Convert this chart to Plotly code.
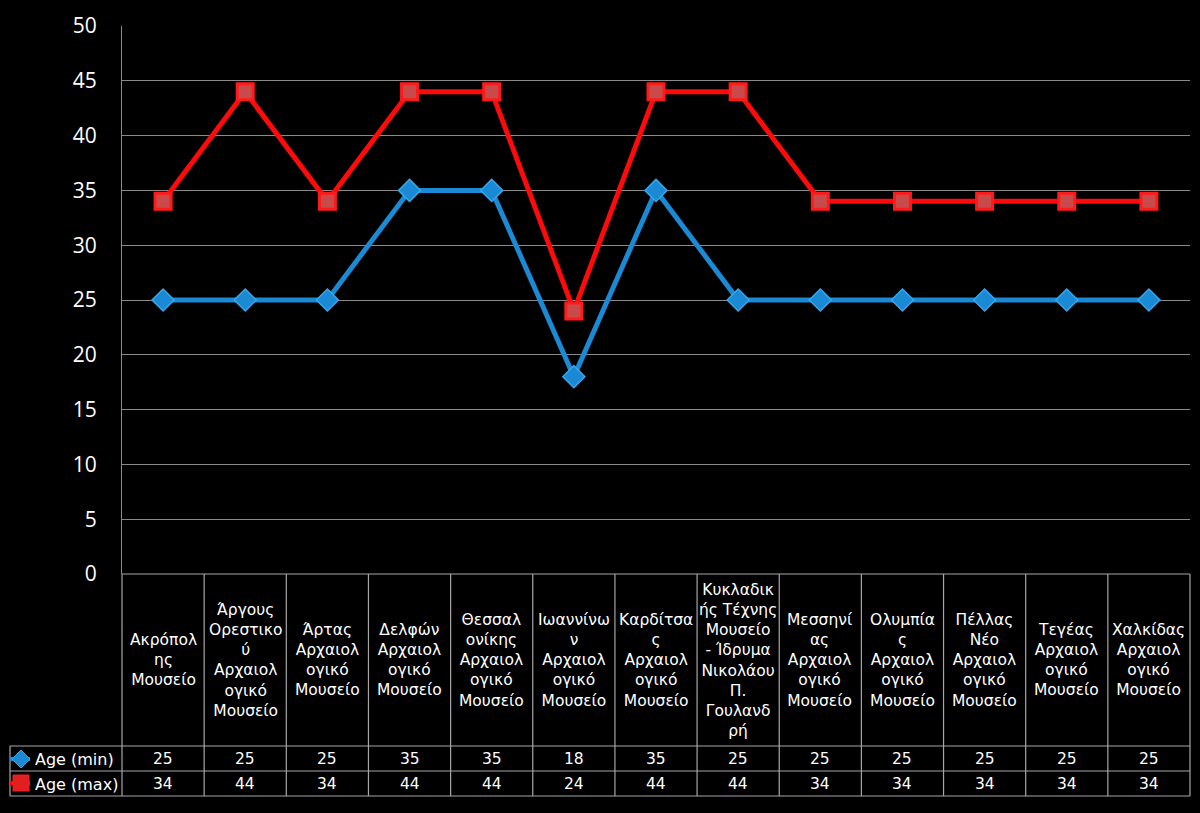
import plotly.graph_objects as go

W, H = 1200, 813

categories = [
    "Ακρόπολ\nης\nΜουσείο",
    "Άργους\nΟρεστικο\nύ\nΑρχαιολ\nογικό\nΜουσείο",
    "Άρτας\nΑρχαιολ\nογικό\nΜουσείο",
    "Δελφών\nΑρχαιολ\nογικό\nΜουσείο",
    "Θεσσαλ\nονίκης\nΑρχαιολ\nογικό\nΜουσείο",
    "Ιωαννίνω\nν\nΑρχαιολ\nογικό\nΜουσείο",
    "Καρδίτσα\nς\nΑρχαιολ\nογικό\nΜουσείο",
    "Κυκλαδικ\nής Τέχνης\nΜουσείο\n- Ίδρυμα\nΝικολάου\nΠ.\nΓουλανδ\nρή",
    "Μεσσηνί\nας\nΑρχαιολ\nογικό\nΜουσείο",
    "Ολυμπία\nς\nΑρχαιολ\nογικό\nΜουσείο",
    "Πέλλας\nΝέο\nΑρχαιολ\nογικό\nΜουσείο",
    "Τεγέας\nΑρχαιολ\nογικό\nΜουσείο",
    "Χαλκίδας\nΑρχαιολ\nογικό\nΜουσείο",
]
age_min = [25, 25, 25, 35, 35, 18, 35, 25, 25, 25, 25, 25, 25]
age_max = [34, 44, 34, 44, 44, 24, 44, 44, 34, 34, 34, 34, 34]
series_names = ["Age (min)", "Age (max)"]
y_ticks = [0, 5, 10, 15, 20, 25, 30, 35, 40, 45, 50]

BLUE = "#1a8ad4"
RED = "#ff0a0a"
GRID = "#8a8a8a"
TABLE = "#a6a6a6"
FONT = "DejaVu Sans"

# pixel layout helpers
X0, X1 = 122, 1190
YTOP, YBOT = 26, 574


def px(x):
    return x / W


def py(y):
    return 1 - y / H


n = len(categories)
xs = list(range(n))

fig = go.Figure()
fig.add_trace(go.Scatter(
    x=xs, y=age_min, mode="lines+markers", name=series_names[0],
    line=dict(color=BLUE, width=5),
    marker=dict(symbol="diamond", size=17, color=BLUE,
                line=dict(color="#3aa6ea", width=1.5)),
))
fig.add_trace(go.Scatter(
    x=xs, y=age_max, mode="lines+markers", name=series_names[1],
    line=dict(color=RED, width=5),
    marker=dict(symbol="square", size=16, color="#c84a4a",
                line=dict(color="#ff1a1a", width=3)),
))

shapes = []
col_w = (X1 - X0) / n
# table horizontal lines
shapes.append(dict(type="line", xref="paper", yref="paper",
                   x0=px(X0), x1=px(X1), y0=py(574), y1=py(574),
                   line=dict(color=TABLE, width=1.2)))
for yy in (746, 771, 796):
    shapes.append(dict(type="line", xref="paper", yref="paper",
                       x0=px(10), x1=px(X1), y0=py(yy), y1=py(yy),
                       line=dict(color=TABLE, width=1.2)))
# vertical lines
for i in range(n + 1):
    xx = X0 + i * col_w
    shapes.append(dict(type="line", xref="paper", yref="paper",
                       x0=px(xx), x1=px(xx), y0=py(574), y1=py(796),
                       line=dict(color=TABLE, width=1.2)))
shapes.append(dict(type="line", xref="paper", yref="paper",
                   x0=px(10), x1=px(10), y0=py(746), y1=py(796),
                   line=dict(color=TABLE, width=1.2)))

# legend keys
def diamond(cx, cy, r):
    return (f"M {px(cx)},{py(cy - r)} L {px(cx + r)},{py(cy)} "
            f"L {px(cx)},{py(cy + r)} L {px(cx - r)},{py(cy)} Z")

shapes.append(dict(type="line", xref="paper", yref="paper",
                   x0=px(10), x1=px(30), y0=py(759), y1=py(759),
                   line=dict(color=BLUE, width=4)))
shapes.append(dict(type="path", xref="paper", yref="paper",
                   path=diamond(21, 759, 9), fillcolor=BLUE,
                   line=dict(color="#3aa6ea", width=1)))
shapes.append(dict(type="line", xref="paper", yref="paper",
                   x0=px(10), x1=px(30), y0=py(783), y1=py(783),
                   line=dict(color=RED, width=4)))
shapes.append(dict(type="rect", xref="paper", yref="paper",
                   x0=px(13), x1=px(29), y0=py(775), y1=py(791),
                   fillcolor="#e02020", line=dict(color="#ff1a1a", width=1)))

annotations = []
for i, c in enumerate(categories):
    annotations.append(dict(
        x=i, xref="x", y=py(660), yref="paper", yanchor="middle",
        text=c.replace("\n", "<br>"), showarrow=False, align="center",
        font=dict(family=FONT, size=15.5, color="white")))
    annotations.append(dict(
        x=i, xref="x", y=py(759), yref="paper", yanchor="middle",
        text=str(age_min[i]), showarrow=False,
        font=dict(family=FONT, size=15.5, color="white")))
    annotations.append(dict(
        x=i, xref="x", y=py(784), yref="paper", yanchor="middle",
        text=str(age_max[i]), showarrow=False,
        font=dict(family=FONT, size=15.5, color="white")))
for name, yy in zip(series_names, (759, 784)):
    annotations.append(dict(
        x=px(33), xref="paper", y=py(yy), yref="paper",
        xanchor="left", yanchor="middle", text=name, showarrow=False,
        font=dict(family=FONT, size=16, color="white")))

fig.update_layout(
    width=W, height=H,
    paper_bgcolor="black", plot_bgcolor="black",
    margin=dict(l=0, r=0, t=0, b=0, autoexpand=False),
    showlegend=False,
    shapes=shapes, annotations=annotations,
    xaxis=dict(domain=[px(X0), px(X1)], range=[-0.5, n - 0.5],
               showticklabels=False, showgrid=False, zeroline=False,
               showline=False, fixedrange=True, automargin=False),
    yaxis=dict(domain=[py(YBOT), py(YTOP)], range=[0, 50],
               tickvals=y_ticks, showgrid=True, gridcolor=GRID, gridwidth=1,
               zeroline=False, showline=True, linecolor=GRID, linewidth=1,
               ticks="", ticklabelstandoff=20, automargin=False,
               tickfont=dict(family="Open Sans", size=21, color="white")),
)

fig.write_html(
    "out.html",
    config={"displayModeBar": False},
    post_script="document.body.style.margin='0';"
                "document.body.style.background='black';"
                "document.body.style.overflow='hidden';",
)
